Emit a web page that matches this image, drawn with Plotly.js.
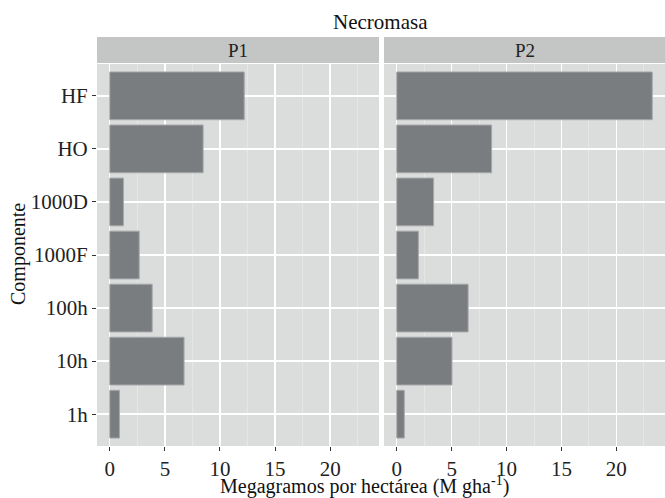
<!DOCTYPE html>
<html>
<head>
<meta charset="utf-8">
<script src="https://cdn.plot.ly/plotly-3.0.1.min.js"></script>
<style>html,body{margin:0;padding:0;background:#fff;}#chart{width:665px;height:498px;}</style>
</head>
<body>
<div id="chart"></div>
<script>
// Data
const componentes = ["1h", "10h", "100h", "1000F", "1000D", "HO", "HF"];
const valoresP1 = [0.88, 6.74, 3.85, 2.67, 1.24, 8.47, 12.2];
const valoresP2 = [0.69, 5.03, 6.5, 1.97, 3.36, 8.64, 23.27];
const panelLabels = ["P1", "P2"];
const xTicks = [0, 5, 10, 15, 20];

const W = 665, H = 498;
const fx = px => px / W;
const fy = py => 1 - py / H;

const FONT = "'Liberation Serif', 'Times New Roman', 'DejaVu Serif', serif";
const barFill = "#7a7d80";
const barLine = "#a6a8aa";
const panelBg = "#dbdcdc";
const stripBg = "#c4c5c5";

const p1 = [97, 379], p2 = [384, 665];
const panelTop = 64, panelBottom = 446;
const stripTop = 37, stripBottom = 63;

const xRange = [-1.16, 24.43];

function bar(vals, xa, ya) {
  return {
    type: "bar", orientation: "h",
    x: vals, y: componentes,
    xaxis: xa, yaxis: ya,
    width: 0.9,
    marker: {color: barFill, line: {color: barLine, width: 1}},
    hoverinfo: "x+y", showlegend: false
  };
}

const xaxisBase = {
  range: xRange, tickvals: xTicks, ticktext: xTicks.map(String),
  showgrid: true, gridcolor: "#ffffff", gridwidth: 1.4,
  minor: {dtick: 2.5, tick0: 0, showgrid: true, gridcolor: "#e9e9e9", gridwidth: 0.7},
  zeroline: false, showline: false,
  ticks: "outside", ticklen: 4, tickcolor: "#333", tickwidth: 1,
  tickfont: {family: FONT, size: 21, color: "#222"},
  fixedrange: true
};
const yaxisBase = {
  type: "category", categoryorder: "array", categoryarray: componentes,
  range: [-0.6, 6.6],
  showgrid: true, gridcolor: "#ffffff", gridwidth: 1.4,
  zeroline: false, showline: false,
  tickfont: {family: FONT, size: 21, color: "#222"},
  fixedrange: true,
  domain: [fy(panelBottom), fy(panelTop)]
};

const layout = {
  width: W, height: H,
  margin: {l: 0, r: 0, t: 0, b: 0},
  paper_bgcolor: "#ffffff",
  plot_bgcolor: panelBg,
  font: {family: FONT, color: "#222"},
  bargap: 0,
  xaxis: Object.assign({}, xaxisBase, {domain: [fx(p1[0]), fx(p1[1])], anchor: "y"}),
  xaxis2: Object.assign({}, xaxisBase, {domain: [fx(p2[0]), fx(p2[1])], anchor: "y2"}),
  yaxis: Object.assign({}, yaxisBase, {anchor: "x", ticks: "outside", ticklen: 4, tickcolor: "#333", tickwidth: 1}),
  yaxis2: Object.assign({}, yaxisBase, {anchor: "x2", showticklabels: false, ticks: ""}),
  shapes: [
    {type: "rect", xref: "paper", yref: "paper", x0: fx(p1[0]), x1: fx(p1[1]), y0: fy(stripBottom), y1: fy(stripTop), fillcolor: stripBg, line: {width: 0}, layer: "below"},
    {type: "rect", xref: "paper", yref: "paper", x0: fx(p2[0]), x1: fx(p2[1]), y0: fy(stripBottom), y1: fy(stripTop), fillcolor: stripBg, line: {width: 0}, layer: "below"}
  ],
  annotations: [
    {text: "Necromasa", xref: "paper", yref: "paper", x: fx(381), y: fy(22), xanchor: "center", yanchor: "middle", showarrow: false, font: {family: FONT, size: 21, color: "#111"}},
    {text: panelLabels[0], xref: "paper", yref: "paper", x: fx((p1[0] + p1[1]) / 2), y: fy(50), xanchor: "center", yanchor: "middle", showarrow: false, font: {family: FONT, size: 19, color: "#222"}},
    {text: panelLabels[1], xref: "paper", yref: "paper", x: fx((p2[0] + p2[1]) / 2), y: fy(50), xanchor: "center", yanchor: "middle", showarrow: false, font: {family: FONT, size: 19, color: "#222"}},
    {text: "Megagramos por hectárea (M gha<sup>-1</sup>)", xref: "paper", yref: "paper", x: fx(364), y: fy(485), xanchor: "center", yanchor: "middle", showarrow: false, font: {family: FONT, size: 20, color: "#111"}},
    {text: "Componente", xref: "paper", yref: "paper", x: fx(18), y: fy(254), xanchor: "center", yanchor: "middle", textangle: -90, showarrow: false, font: {family: FONT, size: 20, color: "#111"}}
  ]
};

Plotly.newPlot("chart", [bar(valoresP1, "x", "y"), bar(valoresP2, "x2", "y2")], layout, {displayModeBar: false, staticPlot: true});
</script>
</body>
</html>
